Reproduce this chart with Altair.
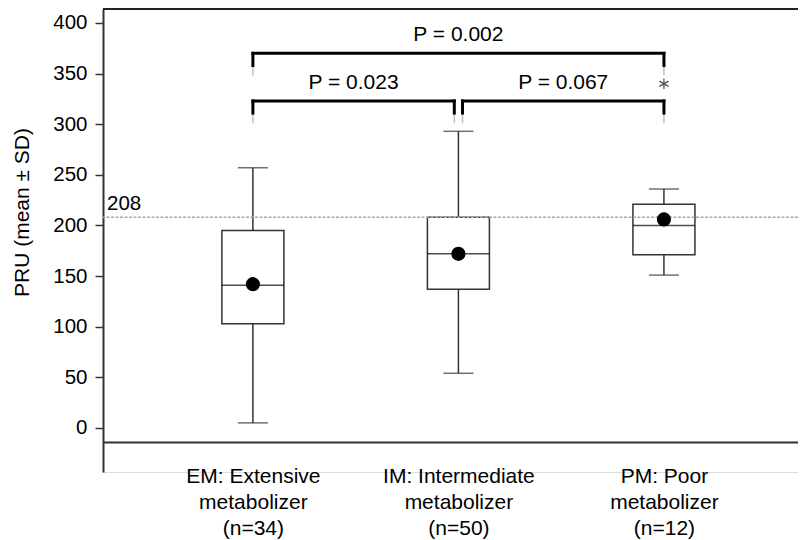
import json
import altair as alt
import pandas as pd

# ---- data ----
groups = ["EM", "IM", "PM"]
group_pos = [1, 2, 3]
group_labels = [
    ["EM: Extensive", "metabolizer", "(n=34)"],
    ["IM: Intermediate", "metabolizer", "(n=50)"],
    ["PM: Poor", "metabolizer", "(n=12)"],
]
whisker_low = [5, 54, 151]
q1 = [103, 137, 171]
median = [141, 172, 200]
q3 = [195, 208, 221]
whisker_high = [257, 293, 236]
mean = [142, 172, 206]

outlier_group = [3]
outlier_value = [340]

ref_value = [208]
ref_label = ["208"]

cmp_from = [1, 1, 2]
cmp_to = [3, 2, 3]
cmp_level = [370, 323, 323]
cmp_text = ["P = 0.002", "P = 0.023", "P = 0.067"]

y_ticks = [0, 50, 100, 150, 200, 250, 300, 350, 400]
y_domain = [-43.5, 413.8]
x_domain = [0.295, 3.628]

FONT = "Liberation Sans, Arial, Helvetica"
DARK = "#333333"
W, H = 695, 463

boxes = pd.DataFrame({
    "group": groups, "pos": group_pos, "lo": whisker_low, "q1": q1,
    "med": median, "q3": q3, "hi": whisker_high, "mean": mean,
})

# bracket segments
gap = 0.02
thick_rows, thin_rows, text_rows = [], [], []
for a, b, lvl, t in zip(cmp_from, cmp_to, cmp_level, cmp_text):
    xa = a + (gap if (b - a == 1 and a != 1) else 0)
    xb = b - (gap if (b - a == 1 and b != 3) else 0)
    thick_rows.append({"x": xa, "x2": xb, "y": lvl, "y2": lvl})
    for xe in (xa, xb):
        thick_rows.append({"x": xe, "x2": xe, "y": lvl, "y2": lvl - 12})
        thin_rows.append({"x": xe, "x2": xe, "y": lvl - 12, "y2": lvl - 22})
    text_rows.append({"x": (xa + xb) / 2, "y": lvl, "t": t})
thick = pd.DataFrame(thick_rows)
thin = pd.DataFrame(thin_rows)
ptext = pd.DataFrame(text_rows)

label_expr = " : ".join(
    f"datum.value == {p} ? {json.dumps(l)}" for p, l in zip(group_pos, group_labels)
) + " : ''"

xscale = alt.Scale(domain=x_domain, nice=False, zero=False)
yscale = alt.Scale(domain=y_domain, nice=False, zero=False)

x_axis = alt.Axis(
    values=group_pos, labelExpr=label_expr, title=None, offset=-30,
    ticks=False, tickSize=0, grid=False, domainColor=DARK, domainWidth=2,
    labelFont=FONT, labelFontSize=21, labelColor="black", labelPadding=23,
    labelBaseline="top", labelLineHeight=26, labelAlign="center",
)
y_axis = alt.Axis(
    values=y_ticks, title="PRU (mean ± SD)", grid=False,
    domainColor=DARK, domainWidth=2, tickColor=DARK, tickWidth=1.5, tickSize=8,
    labelFont=FONT, labelFontSize=20.5, labelColor="black", labelPadding=8,
    titleFont=FONT, titleFontSize=21, titleFontWeight="normal", titleColor="black",
    titleX=-81, titleY=203, titleAngle=270, titleAlign="center", titleBaseline="middle",
)

base = alt.Chart(boxes)

whiskers = base.mark_rule(color=DARK, strokeWidth=1.5).encode(
    x=alt.X("pos:Q", scale=xscale, axis=x_axis),
    y=alt.Y("lo:Q", scale=yscale, axis=y_axis),
    y2="hi:Q",
)
cap_lo = base.mark_tick(orient="horizontal", size=30, thickness=1.5, color=DARK).encode(
    x=alt.X("pos:Q", scale=xscale), y=alt.Y("lo:Q", scale=yscale))
cap_hi = base.mark_tick(orient="horizontal", size=30, thickness=1.5, color=DARK).encode(
    x=alt.X("pos:Q", scale=xscale), y=alt.Y("hi:Q", scale=yscale))
box = base.mark_bar(size=62, fill="white", stroke=DARK, strokeWidth=1.5).encode(
    x=alt.X("pos:Q", scale=xscale), y=alt.Y("q1:Q", scale=yscale), y2="q3:Q")
med = base.mark_tick(orient="horizontal", size=62, thickness=1.5, color="black").encode(
    x=alt.X("pos:Q", scale=xscale), y=alt.Y("med:Q", scale=yscale))

ref_df = pd.DataFrame({"v": ref_value, "t": ref_label})
ref = alt.Chart(ref_df).mark_rule(color="#a8a8a8", strokeWidth=1.5, strokeDash=[3, 1.5]).encode(
    y=alt.Y("v:Q", scale=yscale))
ref_txt = alt.Chart(ref_df).mark_text(
    font=FONT, fontSize=20.5, color="black", align="left", baseline="alphabetic", dy=-7
).encode(x=alt.value(4), y=alt.Y("v:Q", scale=yscale), text="t:N")

mean_dot = base.mark_point(shape="circle", filled=True, size=200, color="black", opacity=1).encode(
    x=alt.X("pos:Q", scale=xscale), y=alt.Y("mean:Q", scale=yscale))

out_df = pd.DataFrame({"pos": outlier_group, "v": outlier_value})
outlier = alt.Chart(out_df).mark_point(
    shape="M0,-1L0,1M-0.87,-0.5L0.87,0.5M-0.87,0.5L0.87,-0.5",
    filled=False, size=110, stroke="#555555", strokeWidth=1.3, opacity=1,
).encode(x=alt.X("pos:Q", scale=xscale), y=alt.Y("v:Q", scale=yscale))

br_thick = alt.Chart(thick).mark_rule(color="black", strokeWidth=3, strokeCap="square").encode(
    x=alt.X("x:Q", scale=xscale), x2="x2:Q", y=alt.Y("y:Q", scale=yscale), y2="y2:Q")
br_thin = alt.Chart(thin).mark_rule(color="#c0c0c0", strokeWidth=1.5).encode(
    x=alt.X("x:Q", scale=xscale), x2="x2:Q", y=alt.Y("y:Q", scale=yscale), y2="y2:Q")
br_text = alt.Chart(ptext).mark_text(
    font=FONT, fontSize=21, color="black", baseline="alphabetic", dy=-12
).encode(x=alt.X("x:Q", scale=xscale), y=alt.Y("y:Q", scale=yscale), text="t:N")

top_line = alt.Chart(ref_df).mark_rule(color="#222222", strokeWidth=2).encode(
    y=alt.value(0), x=alt.value(0), x2=alt.value(W))

chart = alt.layer(
    whiskers, box, med, cap_lo, cap_hi, ref, ref_txt, mean_dot, outlier,
    br_thin, br_thick, br_text, top_line,
).properties(
    width=W, height=H,
    autosize=alt.AutoSizeParams(type="none"),
    padding={"left": 95, "top": 1, "right": 0, "bottom": 68},
).configure_view(stroke=None).configure(background="white")

chart.save("out.html", embed_options={"renderer": "svg", "actions": False})
